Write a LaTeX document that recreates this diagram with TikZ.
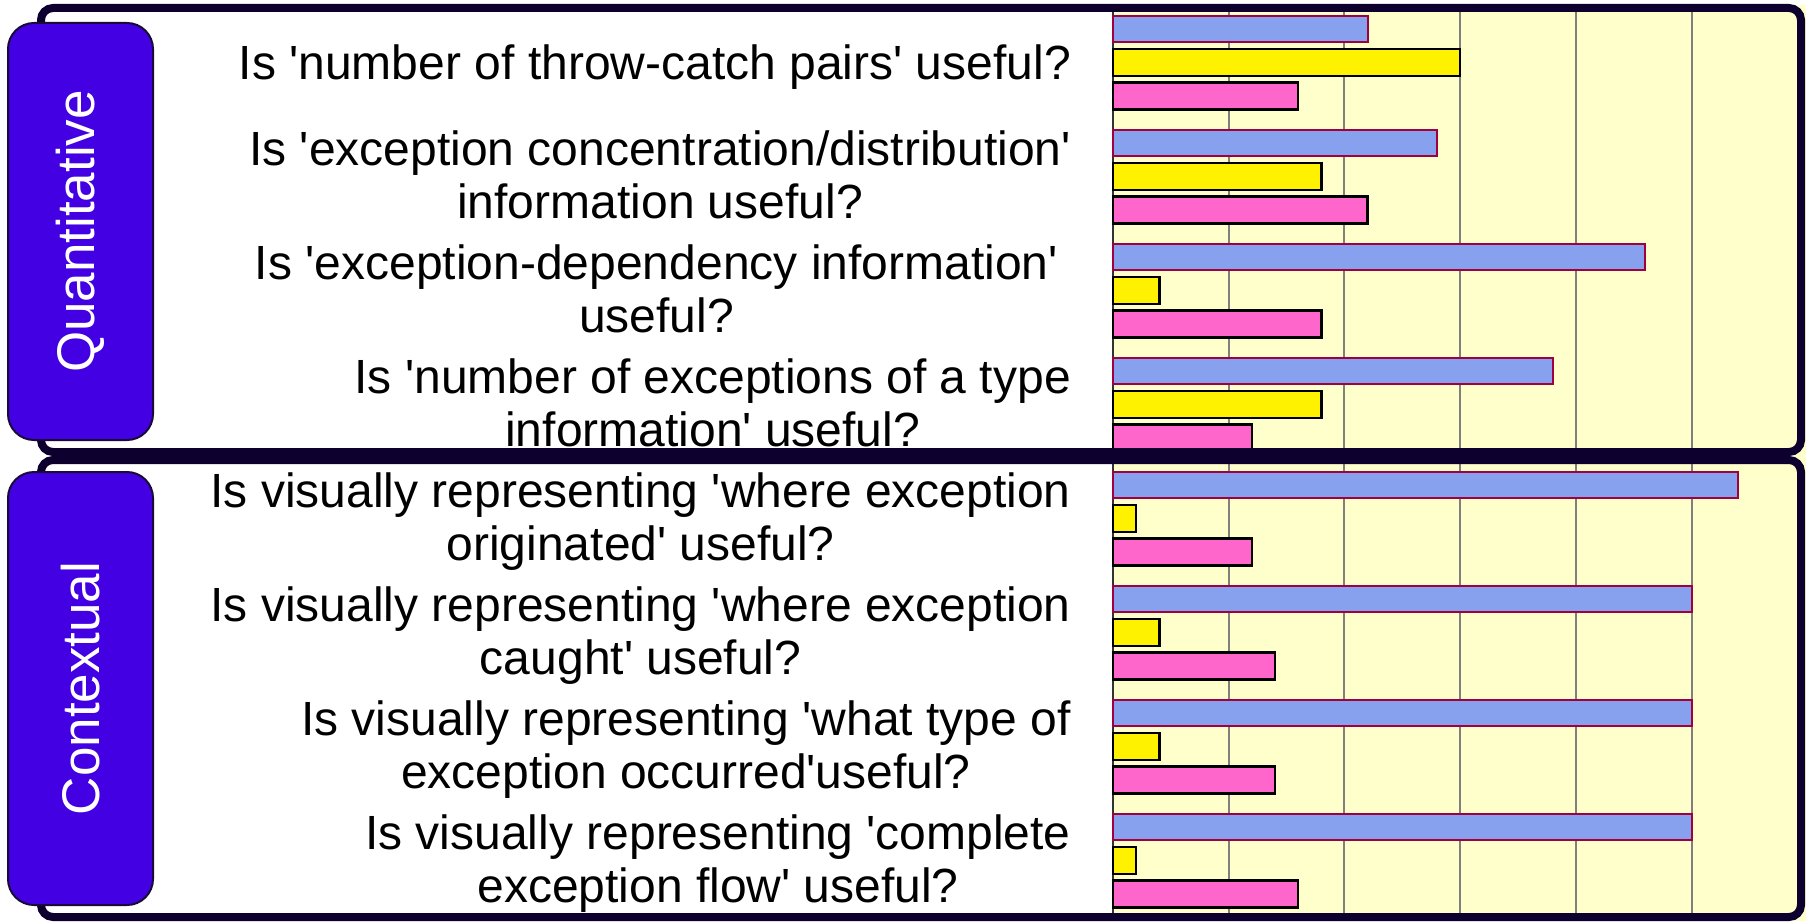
\documentclass[tikz,border=0pt]{standalone}
\usepackage{fontspec}
\setmainfont{Liberation Sans}[Ligatures=TeXOff]
\usepackage{xcolor}

\definecolor{frameline}{HTML}{0E002E}
\definecolor{tabfill}{HTML}{4300E3}
\definecolor{tabedge}{HTML}{1A0A3A}
\definecolor{chartbg}{HTML}{FFFFCC}
\definecolor{barblue}{HTML}{87A1EE}
\definecolor{bluerim}{HTML}{A00040}
\definecolor{barpink}{HTML}{FF66CC}
\definecolor{gridgray}{HTML}{808080}

\begin{document}
\begin{tikzpicture}[
    x=1pt, y=-1pt,
    frame/.style={draw=frameline, line width=8pt, rounded corners=12pt},
    sidetab/.style={rectangle, draw=tabedge, line width=2pt, fill=tabfill, rounded corners=26pt, rotate=90, minimum width=#1, minimum height=145pt, inner sep=0pt, text=white, font=\fontsize{53}{60}\selectfont},
    question/.style={anchor=east, align=center, inner sep=0pt, font=\fontsize{48}{53}\selectfont, execute at begin node=\strut, execute at end node=\strut},
    gridline/.style={draw=gridgray, line width=2pt},
    axisline/.style={draw=black!80, line width=2pt},
    bluebar/.style={fill=barblue, draw=bluerim, line width=2pt},
    yellowbar/.style={fill=yellow, draw=black, line width=2.5pt},
    pinkbar/.style={fill=barpink, draw=black, line width=2.5pt}
]
    \useasboundingbox (0,0) rectangle (1814,923);

    % Chart background and grid
    \fill[chartbg] (1113,5) rectangle (1806,921);
    \foreach \k in {1,...,5}
        \draw[gridline] ({1113+115.7*\k},8) -- ({1113+115.7*\k},917);
    \draw[axisline] (1113,8) -- (1113,917);

    % Bars (one unit = one answer)
    \foreach \vb/\vy/\vp [count=\g from 0] in {11/15/8, 14/9/11, 23/2/9, 19/9/6, 27/1/6, 25/2/7, 25/2/7, 25/1/8} {
        \draw[bluebar] (1113,{15.7+114*\g}) rectangle ++({23.14*\vb},26.7);
        \draw[yellowbar] (1113,{49.2+114*\g}) rectangle ++({23.14*\vy},26.7);
        \draw[pinkbar] (1113,{82.7+114*\g}) rectangle ++({23.14*\vp},26.7);
    }

    % Frames
    \draw[frame] (41,8) rectangle (1801,452);
    \draw[frame] (41,460) rectangle (1801,917);

    % Side tabs
    \node[sidetab=417pt] (quant) at (80.5,231.5) {Quantitative};
    \node[sidetab=433pt] (context) at (80.5,688.5) {Contextual};

    % Questions
    \node[question] (q1) at (1071,69) {Is 'number of throw-catch pairs' useful?};
    \node[question] (q2) at (1071,183) {Is 'exception concentration/distribution'\\information useful?};
    \node[question] (q3) at (1058,297) {Is 'exception-dependency information'\\useful?};
    \node[question] (q4) at (1071,411) {Is 'number of exceptions of a type\\information' useful?};
    \node[question] (q5) at (1071,525) {Is visually representing 'where exception\\originated' useful?};
    \node[question] (q6) at (1071,639) {Is visually representing 'where exception\\caught' useful?};
    \node[question] (q7) at (1071,753) {Is visually representing 'what type of\\exception occurred'useful?};
    \node[question] (q8) at (1071,867) {Is visually representing 'complete\\exception flow' useful?};

\end{tikzpicture}
\end{document}
